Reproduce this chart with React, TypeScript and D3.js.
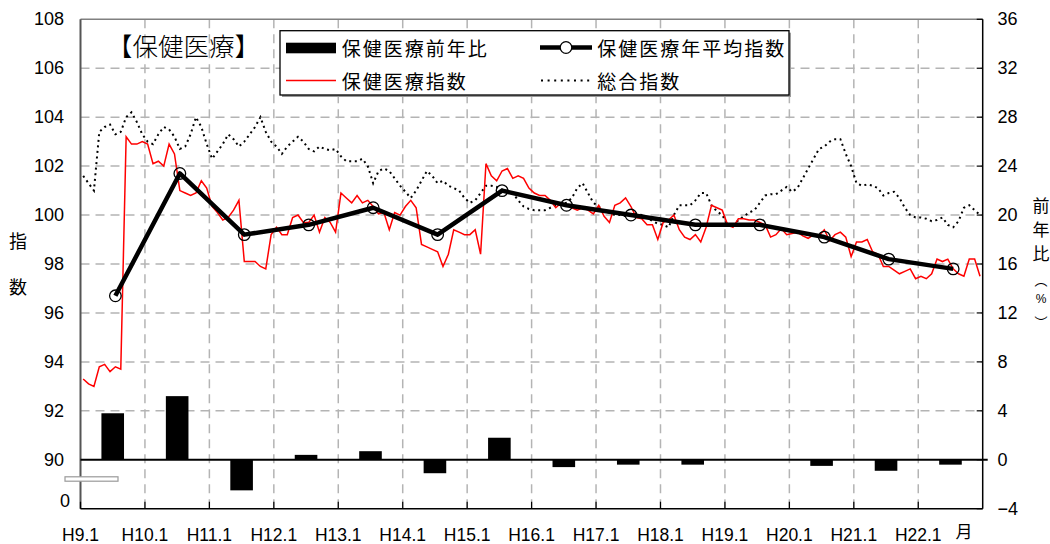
import React from 'react';
import * as d3 from 'd3';

// ---------- data ----------
const yearLabels = ['H9.1', 'H10.1', 'H11.1', 'H12.1', 'H13.1', 'H14.1', 'H15.1', 'H16.1', 'H17.1', 'H18.1', 'H19.1', 'H20.1', 'H21.1', 'H22.1'];
const yoyPct = [3.8, 5.2, -2.5, 0.4, 0.7, -1.1, 1.8, -0.6, -0.4, -0.4, 0.0, -0.5, -0.9, -0.4];
const annualAvg = [96.7, 101.7, 99.2, 99.6, 100.3, 99.2, 101.0, 100.4, 100.0, 99.6, 99.6, 99.1, 98.2, 97.8];

const healthIndex = [
  93.3, 93.1, 93.0, 93.8, 93.9, 93.6, 93.8, 93.7, 103.2, 102.9, 102.9, 103.0,
  102.9, 102.1, 102.2, 102.0, 102.9, 102.5, 101.0, 100.9, 100.8, 100.9, 101.4, 101.1,
  100.35, 100.1, 99.8, 99.9, 100.2, 100.6, 98.1, 98.1, 98.1, 97.9, 97.8, 99.2,
  99.5, 99.2, 99.2, 99.9, 100.0, 99.7, 99.7, 100.0, 99.3, 99.9, 99.7, 99.3,
  100.9, 100.7, 100.5, 100.8, 100.5, 100.6, 100.35, 100.05, 100.1, 99.4, 100.1, 100.0,
  100.35, 100.6, 100.3, 98.8, 98.7, 98.6, 98.5, 97.9, 98.4, 99.4, 99.3, 99.2,
  99.2, 99.4, 98.4, 102.1, 101.6, 101.4, 101.8, 101.9, 101.5, 101.6, 101.5, 101.1,
  100.9, 100.8, 100.8, 100.6, 100.3, 100.5, 100.4, 100.3, 100.2, 100.3, 100.2, 100.05,
  100.4, 99.95, 99.7, 100.4, 100.5, 100.7, 100.35, 99.9, 99.85, 99.6, 99.6, 99.0,
  99.7, 99.8, 100.0, 99.4, 99.1, 99.0, 99.2, 98.9, 99.5, 100.4, 100.3, 100.2,
  99.6, 99.5, 99.85, 99.85, 99.8, 99.8, 99.7, 99.6, 99.1, 99.2, 99.45, 99.2,
  99.25, 99.3, 99.15, 99.05, 99.2, 99.15, 99.4, 98.95, 99.2, 99.3, 99.1, 98.3,
  98.9, 98.9, 99.0, 98.5, 98.4, 97.9, 97.9, 97.75, 97.6, 97.7, 97.8, 97.4,
  97.5, 97.4, 97.6, 98.2, 98.1, 98.2, 97.8, 97.6, 97.5, 98.2, 98.2, 97.5,
];

const totalIndex = [
  101.6, 101.3, 101.0, 103.4, 103.6, 103.7, 103.3, 103.4, 104.0, 104.2, 103.8, 103.3,
  103.0, 102.9, 103.3, 103.6, 103.5, 103.2, 102.7, 102.8, 103.3, 104.0, 103.6, 102.9,
  102.3, 102.6, 102.9, 103.3, 103.1, 102.8, 103.0, 103.3, 103.6, 104.0, 103.4, 103.0,
  102.8, 102.5, 102.8, 103.0, 103.2, 103.0, 102.7, 102.6, 102.8, 102.7, 102.65, 102.7,
  102.4, 102.2, 102.2, 102.2, 102.3, 102.0, 101.3, 101.8, 101.9, 101.8, 101.5, 101.2,
  100.95, 100.7, 101.0, 101.4, 101.8, 101.6, 101.3, 101.4, 101.2, 101.1, 101.0, 100.7,
  100.5, 100.6, 100.9, 101.2, 101.2, 101.15, 101.05, 101.0, 100.9, 100.6, 100.35, 100.25,
  100.2, 100.2, 100.2, 100.3, 100.4, 100.45, 100.5, 100.7, 101.1, 101.3, 100.9, 100.5,
  100.35, 100.15, 100.1, 100.0, 100.0, 99.95, 100.0, 100.05, 100.0, 99.9, 99.75, 99.65,
  99.6, 99.5, 100.0, 100.4, 100.4, 100.4, 100.6, 100.9, 100.9, 100.4, 100.15, 100.0,
  99.6, 99.5, 99.8, 99.95, 100.1, 100.2, 100.5, 100.8, 100.85, 100.85, 101.0, 101.15,
  100.95, 101.1, 101.5, 101.9, 102.3, 102.7, 102.8, 103.0, 103.1, 103.1, 102.5, 102.0,
  101.3, 101.2, 101.25, 101.2, 101.1, 100.8, 100.9, 100.95, 100.7, 100.3, 100.0, 99.9,
  99.9, 99.85, 99.75, 99.8, 99.9, 99.6, 99.5, 99.75, 100.3, 100.4, 100.2, 100.0,
];

const leftTicks = [108, 106, 104, 102, 100, 98, 96, 94, 92, 90];
const rightTicks = [36, 32, 28, 24, 20, 16, 12, 8, 4, 0, -4];

const legendLabels = ['保健医療前年比', '保健医療年平均指数', '保健医療指数', '総合指数'];
const titleText = '【保健医療】';

// ---------- layout ----------
const W = 1050;
const H = 544;
const X0 = 80.5;
const X1 = 982.7;
const Y0 = 19.3;
const Y1 = 508.7;

const CJK = '"Noto Sans CJK JP", "Noto Sans", sans-serif';
const NUM = '"Liberation Sans", Arial, sans-serif';

export default function App() {
  const nMonths = yearLabels.length * 12;
  const xM = d3.scaleLinear().domain([0, nMonths]).range([X0, X1]);
  const yL = d3.scaleLinear().domain([88, 108]).range([Y1, Y0]);
  const yR = d3.scaleLinear().domain([-4, 36]).range([Y1, Y0]);

  const monthLine = d3
    .line<number>()
    .x((_, i) => xM(i + 0.5))
    .y((d) => yL(d));
  const avgLine = d3
    .line<number>()
    .x((_, i) => xM(i * 12 + 6.5))
    .y((d) => yL(d));

  const barW = 22.6;
  const gridColor = '#b4b4b4';
  const dash = '9,6';

  return (
    <svg
      width={W}
      height={H}
      viewBox={`0 0 ${W} ${H}`}
      style={{ position: 'absolute', left: 0, top: 0, background: '#fff' }}
    >
      <rect x={0} y={0} width={W} height={H} fill="#fff" />

      {/* horizontal grid */}
      {leftTicks
        .filter((t) => t !== 108 && t !== 90)
        .map((t) => (
          <line key={'hg' + t} x1={X0} x2={X1} y1={yL(t)} y2={yL(t)} stroke={gridColor} strokeWidth={1.5} strokeDasharray={dash} />
        ))}
      {/* vertical grid */}
      {yearLabels.map((_, i) =>
        i === 0 ? null : (
          <line key={'vg' + i} x1={xM(i * 12)} x2={xM(i * 12)} y1={Y0} y2={Y1} stroke={gridColor} strokeWidth={1.5} strokeDasharray={dash} />
        )
      )}

      {/* frame */}
      <line x1={X0} x2={X1} y1={Y0} y2={Y0} stroke="#808080" strokeWidth={1.5} />
      <line x1={X0} x2={X0} y1={Y0} y2={Y1} stroke="#555" strokeWidth={2} />
      <line x1={X1} x2={X1} y1={Y0} y2={Y1} stroke="#000" strokeWidth={1.5} />
      <line x1={X0} x2={X1} y1={Y1} y2={Y1} stroke="#000" strokeWidth={1.5} />

      {/* axis ticks */}
      {yearLabels.map((_, i) => (
        <line key={'bt' + i} x1={xM(i * 12)} x2={xM(i * 12)} y1={Y1} y2={Y1 - 7} stroke="#000" strokeWidth={1.2} />
      ))}
      {rightTicks.map((t) => (
        <line key={'rt' + t} x1={X1 - 6} x2={X1} y1={yR(t)} y2={yR(t)} stroke="#000" strokeWidth={1.2} />
      ))}

      {/* bars */}
      {yoyPct.map((v, i) => {
        const cx = xM(i * 12 + 6);
        const y0 = yR(0);
        const yv = yR(v);
        return (
          <rect key={'bar' + i} x={cx - barW / 2} y={Math.min(y0, yv)} width={barW} height={Math.abs(yv - y0)} fill="#000" />
        );
      })}

      {/* zero line */}
      <line x1={X0} x2={X1 + 5} y1={yR(0)} y2={yR(0)} stroke="#000" strokeWidth={2} />

      {/* total index dotted */}
      <path d={monthLine(totalIndex) || ''} fill="none" stroke="#000" strokeWidth={2} strokeDasharray="2,3.6" />

      {/* health index red */}
      <path d={monthLine(healthIndex) || ''} fill="none" stroke="#ff0000" strokeWidth={1.5} />

      {/* annual average */}
      <path d={avgLine(annualAvg) || ''} fill="none" stroke="#000" strokeWidth={4.5} strokeLinejoin="round" />
      {annualAvg.map((v, i) => (
        <circle key={'c' + i} cx={xM(i * 12 + 6.5)} cy={yL(v)} r={5.8} fill="none" stroke="#000" strokeWidth={1.3} />
      ))}

      {/* axis break */}
      <rect x={65} y={476.8} width={53} height={4.4} fill="#fff" stroke="#9a9a9a" strokeWidth={1.2} />

      {/* left tick labels */}
      {leftTicks.map((t) => (
        <text key={'ll' + t} x={64} y={yL(t)} textAnchor="end" dominantBaseline="central" fontFamily={NUM} fontSize={18} fill="#000">
          {t}
        </text>
      ))}
      <text x={70} y={501} textAnchor="end" dominantBaseline="central" fontFamily={NUM} fontSize={18} fill="#000">
        0
      </text>

      {/* right tick labels */}
      {rightTicks.map((t) => (
        <text key={'rl' + t} x={997.5} y={yR(t)} textAnchor="start" dominantBaseline="central" fontFamily={NUM} fontSize={18} fill="#000">
          {t < 0 ? '−' + Math.abs(t) : t}
        </text>
      ))}

      {/* x labels */}
      {yearLabels.map((l, i) => (
        <text key={'xl' + i} x={xM(i * 12)} y={535} textAnchor="middle" dominantBaseline="central" fontFamily={NUM} fontSize={17.5} fill="#000">
          {l}
        </text>
      ))}
      <text x={xM(13 * 12 + 8.5)} y={530} textAnchor="middle" dominantBaseline="central" fontFamily={CJK} fontSize={17} fill="#000">
        月
      </text>

      {/* left axis title */}
      <text x={18} y={240} textAnchor="middle" dominantBaseline="central" fontFamily={CJK} fontSize={18} fill="#000">指</text>
      <text x={18} y={286} textAnchor="middle" dominantBaseline="central" fontFamily={CJK} fontSize={18} fill="#000">数</text>

      {/* right axis title */}
      <text x={1041} y={204} textAnchor="middle" dominantBaseline="central" fontFamily={CJK} fontSize={17} fill="#000">前</text>
      <text x={1041} y={228} textAnchor="middle" dominantBaseline="central" fontFamily={CJK} fontSize={17} fill="#000">年</text>
      <text x={1041} y={252} textAnchor="middle" dominantBaseline="central" fontFamily={CJK} fontSize={17} fill="#000">比</text>
      <text x={1041} y={279} textAnchor="middle" dominantBaseline="central" fontFamily={CJK} fontSize={13} fill="#000">︵</text>
      <text x={1041} y={299} textAnchor="middle" dominantBaseline="central" fontFamily={NUM} fontSize={12} fill="#000">%</text>
      <text x={1041} y={321} textAnchor="middle" dominantBaseline="central" fontFamily={CJK} fontSize={13} fill="#000">︶</text>

      {/* title */}
      <text x={107} y={44} textAnchor="start" dominantBaseline="central" fontFamily={CJK} fontSize={25.5} fontWeight={300} fill="#000">
        {titleText}
      </text>

      {/* legend */}
      <rect x={282} y={32.7} width={509} height={64.3} fill="#9a9a9a" />
      <rect x={280} y={30.7} width={509} height={64.3} fill="#fff" stroke="#000" strokeWidth={1.3} />
      <rect x={286} y={42.7} width={50} height={10.6} fill="#000" />
      <text x={341.7} y={47.5} dominantBaseline="central" fontFamily={CJK} fontSize={19} letterSpacing={2} fill="#000">{legendLabels[0]}</text>
      <line x1={540} x2={592} y1={47.5} y2={47.5} stroke="#000" strokeWidth={4.5} />
      <circle cx={566} cy={47.5} r={5.8} fill="#fff" stroke="#000" strokeWidth={1.3} />
      <text x={597.3} y={47.5} dominantBaseline="central" fontFamily={CJK} fontSize={19} letterSpacing={2} fill="#000">{legendLabels[1]}</text>
      <line x1={286} x2={336} y1={80.5} y2={80.5} stroke="#ff0000" strokeWidth={1.5} />
      <text x={341.7} y={80.5} dominantBaseline="central" fontFamily={CJK} fontSize={19} letterSpacing={2} fill="#000">{legendLabels[2]}</text>
      <line x1={541} x2={590} y1={80.5} y2={80.5} stroke="#000" strokeWidth={2} strokeDasharray="2,4.6" />
      <text x={597.3} y={80.5} dominantBaseline="central" fontFamily={CJK} fontSize={19} letterSpacing={2} fill="#000">{legendLabels[3]}</text>
    </svg>
  );
}
